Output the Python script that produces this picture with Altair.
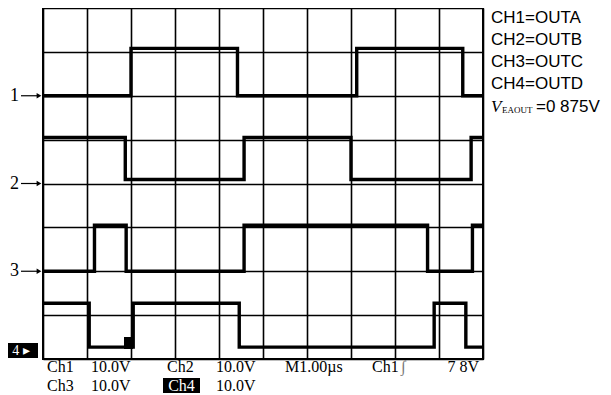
import altair as alt
import pandas as pd

# ---- data (time in µs = divisions, level in divisions from bottom) ----
ch1_t = [0, 2.00, 4.42, 7.13, 9.54, 10]
ch1_v = [6.0, 7.08, 6.0, 7.08, 6.0, 6.0]
ch2_t = [0, 1.87, 4.57, 7.00, 9.73, 10]
ch2_v = [5.05, 4.09, 5.05, 4.09, 5.05, 5.05]
ch3_t = [0, 1.17, 1.89, 4.57, 8.74, 9.76, 10]
ch3_v = [2.0, 3.05, 2.0, 3.05, 2.0, 3.05, 3.05]
ch4_t = [0, 1.05, 2.05, 4.46, 8.89, 9.61, 10]
ch4_v = [1.27, 0.27, 1.27, 0.27, 1.27, 0.27, 0.27]

marker_labels = ["1", "2", "3"]
marker_levels = [6.0, 4.0, 2.0]

legend_lines = ["CH1=OUTA", "CH2=OUTB", "CH3=OUTC", "CH4=OUTD"]

x_grid = list(range(0, 11))
y_grid = list(range(0, 9))

rows = []
for name, ts, vs in [("CH1", ch1_t, ch1_v), ("CH2", ch2_t, ch2_v),
                     ("CH3", ch3_t, ch3_v), ("CH4", ch4_t, ch4_v)]:
    for t, v in zip(ts, vs):
        rows.append({"ch": name, "t": t, "v": v})
traces = pd.DataFrame(rows)
markers = pd.DataFrame({"lab": marker_labels, "lvl": marker_levels})
one = pd.DataFrame({"k": [0]})

W, H = 440, 351
xs = alt.Scale(domain=[0, 10], nice=False, zero=False)
ys = alt.Scale(domain=[0, 8], nice=False, zero=False)

xax = alt.Axis(values=x_grid, grid=True, gridColor="black", gridWidth=1.6, gridOpacity=1,
               labels=False, ticks=False, domain=False, title=None)
yax = alt.Axis(values=y_grid, grid=True, gridColor="black", gridWidth=1.6, gridOpacity=1,
               labels=False, ticks=False, domain=False, title=None)

lines = alt.Chart(traces).mark_line(interpolate="step-after", color="black",
                                     strokeWidth=3.4, clip=True).encode(
    x=alt.X("t:Q", scale=xs, axis=xax),
    y=alt.Y("v:Q", scale=ys, axis=yax),
    detail="ch:N",
)

# channel ground markers "1→" etc.
mk_text = alt.Chart(markers).mark_text(align="right", baseline="middle", font="Liberation Serif",
                                       fontSize=18, color="black").encode(
    x=alt.value(-24), y=alt.Y("lvl:Q", scale=ys), text="lab:N")
mk_rule = alt.Chart(markers).mark_rule(color="black", strokeWidth=1.2).encode(
    x=alt.value(-22), x2=alt.value(-6), y=alt.Y("lvl:Q", scale=ys))
mk_head = alt.Chart(markers).mark_point(shape="triangle-right", filled=True, color="black",
                                        size=30, opacity=1).encode(
    x=alt.value(-4), y=alt.Y("lvl:Q", scale=ys))

def rect(x1, x2, y1, y2):
    return alt.Chart(one).mark_rect(color="black").encode(
        x=alt.value(x1), x2=alt.value(x2), y=alt.value(y1), y2=alt.value(y2))

def label(txt, x, y, size=16, font="Liberation Serif", align="left", color="black",
          style="normal", baseline="alphabetic"):
    return alt.Chart(one).mark_text(text=txt, align=align, baseline=baseline, font=font,
                                    fontSize=size, color=color, fontStyle=style).encode(
        x=alt.value(x), y=alt.value(y))

# ch4 inverse marker box
box4 = rect(-38, -5, 335, 350)
box4_t = label("4 ▸", -22, 342.5, size=14, align="center", color="white", baseline="middle")

# trigger position small square
trig = rect(81, 90, 329, 341)

# right-hand legend text
leg = [label(t, 448, 15 + 22 * i, size=17, font="Liberation Sans")
       for i, t in enumerate(legend_lines)]

v_lab = label("V", 448, 104, size=17, style="italic")
v_sub = label("EAOUT", 459, 105, size=9)
v_val = label("=0 875V", 493, 104, size=17, font="Liberation Sans")

# bottom status line
ch4_box = rect(120, 157, 370, 385)
bottom = [
    label("Ch1", 4, 364), label("10.0V", 48, 364),
    label("Ch2", 124, 364), label("10.0V", 173, 364),
    label("M1.00µs", 242, 364), label("Ch1", 329, 364),
    label("∫", 358, 364, color="#777777"),
    label("7 8V", 436, 364, align="right"),
    label("Ch3", 4, 383), label("10.0V", 48, 383),
    label("Ch4", 138.5, 383, align="center", color="white"),
    label("10.0V", 173, 383),
]

chart = alt.layer(lines, mk_text, mk_rule, mk_head, box4, box4_t, trig,
                  *leg, v_lab, v_sub, v_val, ch4_box, *bottom).properties(
    width=W, height=H,
    autosize=alt.AutoSizeParams(type="none"),
    padding={"left": 35, "top": 0, "right": 120, "bottom": 35},
    background="white",
).configure_view(stroke="black", strokeWidth=2)

chart.save("out.html", embed_options={"renderer": "svg", "actions": False})
